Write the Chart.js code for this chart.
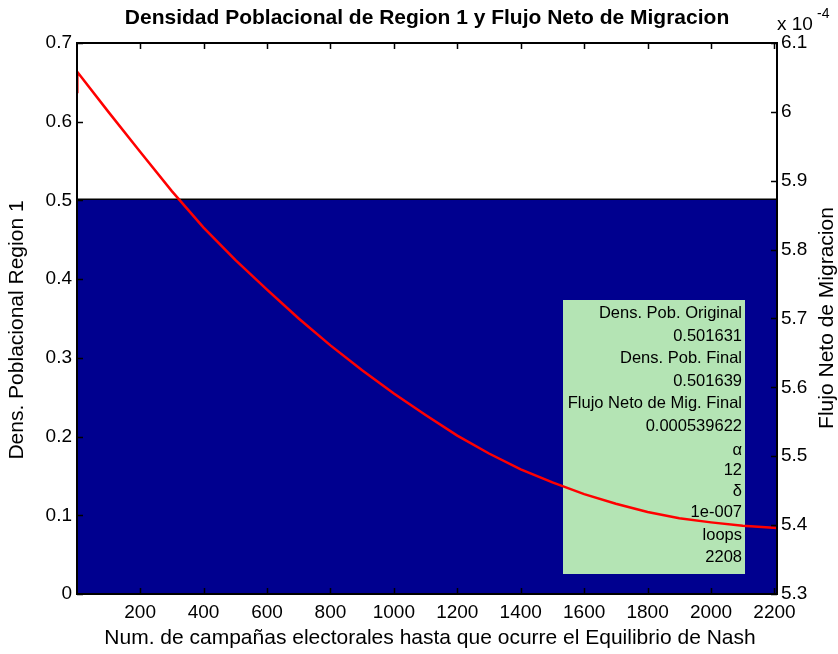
<!DOCTYPE html>
<html>
<head>
<meta charset="utf-8">
<script src="https://cdn.jsdelivr.net/npm/chart.js@4"></script>
<style>
  body { margin: 0; background: #fff; }
  #wrap { width: 838px; height: 654px; }
</style>
</head>
<body>
<div id="wrap"><canvas id="chart" width="838" height="654"></canvas></div>
<script>
// iteration number (x) and data
const iterX = [1, 2, 100, 200, 300, 400, 500, 600, 700, 800, 900, 1000, 1100, 1200, 1300, 1400, 1500, 1600, 1700, 1800, 1900, 2000, 2100, 2208]
// flujo neto de migracion, in units of 1e-4
const flujo = [6.029, 6.058, 6.000, 5.942, 5.885, 5.832, 5.785, 5.742, 5.700, 5.661, 5.625, 5.591, 5.560, 5.530, 5.504, 5.481, 5.462, 5.445, 5.431, 5.419, 5.410, 5.404, 5.399, 5.396]
// densidad poblacional region 1 (area)
const densX = [1, 2208]
const densidad = [0.501631, 0.501639]

const xTicks = [200, 400, 600, 800, 1000, 1200, 1400, 1600, 1800, 2000, 2200]
const leftTicks = [0, 0.1, 0.2, 0.3, 0.4, 0.5, 0.6, 0.7]
const rightTicks = [5.3, 5.4, 5.5, 5.6, 5.7, 5.8, 5.9, 6, 6.1]

const infoLines = ['Dens. Pob. Original', '0.501631', 'Dens. Pob. Final', '0.501639',
  'Flujo Neto de Mig. Final', '0.000539622', 'α', '12', 'δ', '1e-007', 'loops', '2208']

const FONT = '"Liberation Sans", Arial, sans-serif'

const setTicks = (list) => (scale) => {
  scale.ticks = list.map(v => ({ value: v }))
}

const boxPlugin = {
  id: 'matlabBox',
  afterDatasetDraw(chart, args) {
    if (args.meta.order !== 2) return
    // text box drawn over the area, under the red line
    const ctx = chart.ctx
    ctx.save()
    ctx.fillStyle = '#b4e4b4'
    ctx.fillRect(563, 300, 182, 274)
    ctx.fillStyle = '#000'
    ctx.font = '16.5px ' + FONT
    ctx.textAlign = 'right'
    ctx.textBaseline = 'middle'
    const ys = [313, 336, 358, 381, 403, 426, 450, 470, 491, 512, 535, 557]
    infoLines.forEach((t, i) => ctx.fillText(t, 742, ys[i]))
    ctx.restore()
  },
  afterDraw(chart) {
    const ctx = chart.ctx
    const { left, right, top, bottom } = chart.chartArea
    const x = chart.scales.x
    const yl = chart.scales.y
    const yr = chart.scales.y2
    ctx.save()
    ctx.strokeStyle = '#000'
    ctx.lineWidth = 2
    ctx.strokeRect(left, top, right - left, bottom - top)
    ctx.lineWidth = 1.5
    ctx.beginPath()
    xTicks.forEach(v => {
      const px = Math.round(x.getPixelForValue(v)) + 0.5
      ctx.moveTo(px, bottom); ctx.lineTo(px, bottom - 6)
      ctx.moveTo(px, top); ctx.lineTo(px, top + 6)
    })
    leftTicks.forEach(v => {
      const py = Math.round(yl.getPixelForValue(v)) + 0.5
      ctx.moveTo(left, py); ctx.lineTo(left + 6, py)
    })
    rightTicks.forEach(v => {
      const py = Math.round(yr.getPixelForValue(v)) + 0.5
      ctx.moveTo(right, py); ctx.lineTo(right - 6, py)
    })
    ctx.stroke()

    ctx.fillStyle = '#000'
    ctx.textAlign = 'center'
    ctx.textBaseline = 'middle'
    ctx.font = 'bold 21px ' + FONT
    ctx.fillText('Densidad Poblacional de Region 1 y Flujo Neto de Migracion', 427, 18)
    ctx.font = '21px ' + FONT
    ctx.fillText('Num. de campañas electorales hasta que ocurre el Equilibrio de Nash', 430, 638)

    ctx.save()
    ctx.translate(17, 330)
    ctx.rotate(-Math.PI / 2)
    ctx.fillText('Dens. Poblacional Region 1', 0, 0)
    ctx.restore()
    ctx.save()
    ctx.translate(827, 318)
    ctx.rotate(-Math.PI / 2)
    ctx.fillText('Flujo Neto de Migracion', 0, 0)
    ctx.restore()

    ctx.textAlign = 'left'
    ctx.font = '19px ' + FONT
    ctx.fillText('x 10', 777, 25)
    ctx.font = '14px ' + FONT
    ctx.fillText('-4', 817, 14)
    ctx.restore()
  }
}

new Chart(document.getElementById('chart'), {
  type: 'line',
  data: {
    datasets: [
      {
        label: 'Flujo Neto de Migracion',
        data: iterX.map((v, i) => ({ x: v, y: flujo[i] })),
        yAxisID: 'y2',
        borderColor: '#ff0000',
        borderWidth: 2.5,
        pointRadius: 0,
        tension: 0,
        fill: false,
        order: 1
      },
      {
        label: 'Dens. Poblacional Region 1',
        data: densX.map((v, i) => ({ x: v, y: densidad[i] })),
        yAxisID: 'y',
        borderColor: '#000000',
        borderWidth: 1.5,
        backgroundColor: '#00008f',
        pointRadius: 0,
        fill: 'origin',
        order: 2
      }
    ]
  },
  options: {
    responsive: false,
    animation: false,
    layout: { padding: { top: 43, left: 0, right: 0, bottom: 0 } },
    plugins: { legend: { display: false }, tooltip: { enabled: false } },
    scales: {
      x: {
        type: 'linear',
        min: 1,
        max: 2208,
        afterBuildTicks: setTicks(xTicks),
        afterFit: (s) => { s.height = 60 },
        grid: { display: false, drawTicks: false },
        border: { display: false },
        ticks: { color: '#000', font: { family: FONT, size: 19 }, padding: 7, maxRotation: 0, autoSkip: false, callback: v => String(v) }
      },
      y: {
        position: 'left',
        min: 0,
        max: 0.7,
        afterBuildTicks: setTicks(leftTicks),
        afterFit: (s) => { s.width = 77 },
        grid: { display: false, drawTicks: false },
        border: { display: false },
        ticks: { color: '#000', font: { family: FONT, size: 19 }, padding: 5, callback: v => String(+v.toFixed(1)) }
      },
      y2: {
        position: 'right',
        min: 5.3,
        max: 6.1,
        afterBuildTicks: setTicks(rightTicks),
        afterFit: (s) => { s.width = 61 },
        grid: { display: false, drawTicks: false },
        border: { display: false },
        ticks: { color: '#000', font: { family: FONT, size: 19 }, padding: 4, callback: v => String(+v.toFixed(1)) }
      }
    }
  },
  plugins: [boxPlugin]
})
</script>
</body>
</html>
